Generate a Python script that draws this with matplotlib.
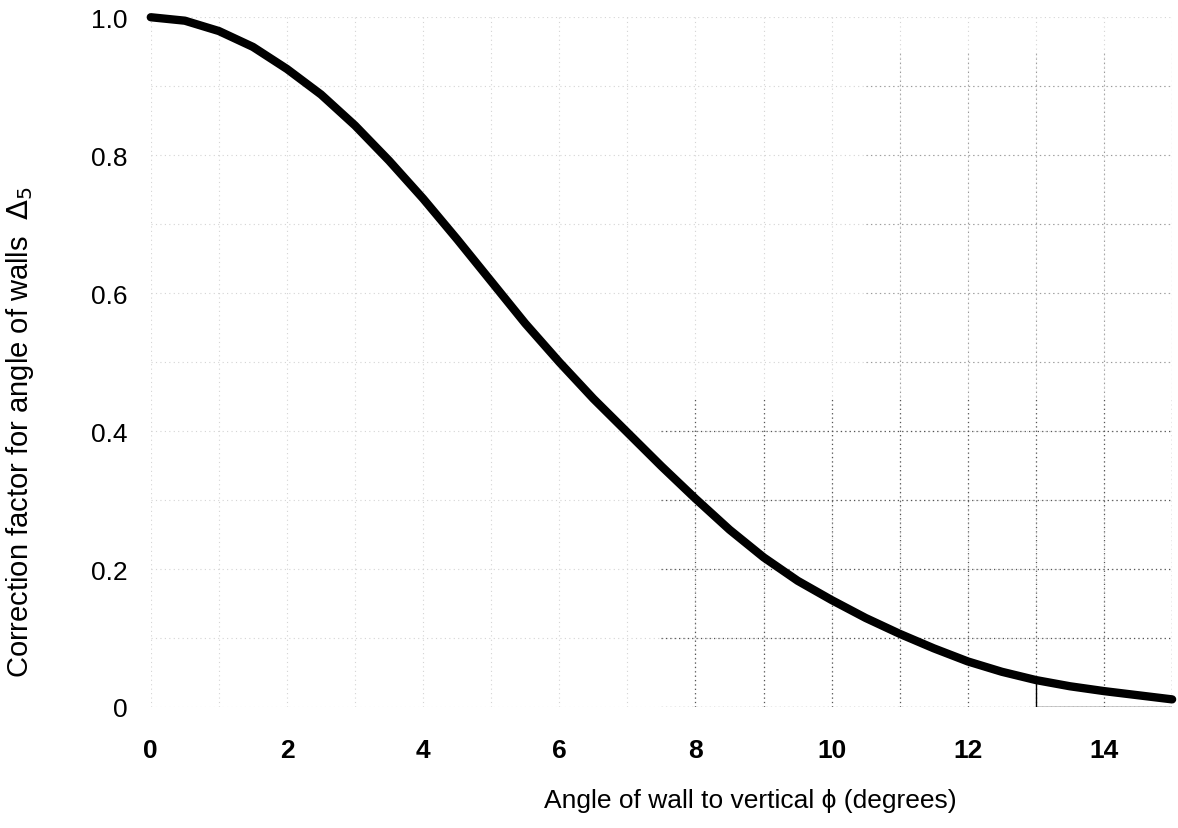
import numpy as np
import matplotlib
matplotlib.use("Agg")
import matplotlib.pyplot as plt

# values (angle in degrees -> correction factor)
angle_deg = [0, 0.5, 1, 1.5, 2, 2.5, 3, 3.5, 4, 4.5, 5, 5.5, 6, 6.5, 7, 7.5,
             8, 8.5, 9, 9.5, 10, 10.5, 11, 11.5, 12, 12.5, 13, 13.5, 14, 14.5, 15]
factor = [1.000, 0.995, 0.980, 0.957, 0.925, 0.888, 0.843, 0.792, 0.737, 0.678,
          0.617, 0.556, 0.500, 0.447, 0.398, 0.349, 0.302, 0.257, 0.217, 0.183,
          0.155, 0.129, 0.106, 0.085, 0.066, 0.051, 0.039, 0.030, 0.023, 0.017, 0.011]

x_ticks = [0, 2, 4, 6, 8, 10, 12, 14]
y_ticks = [0, 0.2, 0.4, 0.6, 0.8, 1.0]
y_tick_labels = ["0", "0.2", "0.4", "0.6", "0.8", "1.0"]
x_grid = list(range(0, 16))
y_grid = [0, 0.1, 0.2, 0.3, 0.4, 0.5, 0.6, 0.7, 0.8, 0.9, 1.0]

plt.rcParams["font.family"] = ["Liberation Sans", "DejaVu Sans"]

fig = plt.figure(figsize=(11.78, 8.29), dpi=100)
ax = fig.add_axes([0.128, 0.146, 0.867, 0.832])

# faint dotted grid over the whole field, darker in the lower right
# where the scan kept it best
ax.vlines(x_grid, 0, 1.0, colors="#d4d4d4", linestyles=(0, (1, 3)), lw=0.8)
ax.hlines(y_grid, 0, 15, colors="#d4d4d4", linestyles=(0, (1, 3)), lw=0.8)
ax.vlines([g for g in x_grid if g >= 8], 0, 0.45, colors="#555555",
          linestyles=(0, (1, 2.5)), lw=0.9)
ax.hlines([g for g in y_grid if g <= 0.4], 7.5, 15, colors="#555555",
          linestyles=(0, (1, 2.5)), lw=0.9)
ax.vlines([g for g in x_grid if g >= 11], 0.45, 0.95, colors="#999999",
          linestyles=(0, (1, 3)), lw=0.8)
ax.hlines([g for g in y_grid if 0.5 <= g <= 0.9], 10.5, 15, colors="#999999",
          linestyles=(0, (1, 3)), lw=0.8)

# construction lines left in the original drawing
ax.plot([13, 13, 15], [0.039, 0, 0], color="black", lw=1.0)

ax.plot(angle_deg, factor, color="black", lw=6, solid_capstyle="round",
        clip_on=False, zorder=3)

ax.set_xlim(0, 15)
ax.set_ylim(0, 1.0)
ax.set_xticks(x_ticks)
ax.set_yticks(y_ticks)
ax.set_yticklabels(y_tick_labels)
ax.tick_params(length=0, labelsize=19)
ax.tick_params(axis="x", pad=22)
ax.tick_params(axis="y", pad=17)
for lab in ax.get_xticklabels():
    lab.set_fontweight("bold")
for sp in ax.spines.values():
    sp.set_visible(False)

ax.set_xlabel("Angle of wall to vertical \u03d5 (degrees)", fontsize=19)
ax.xaxis.set_label_coords(0.587, -0.117)
ax.set_ylabel("Correction factor for angle of walls  $\\Delta_5$", fontsize=21)
ax.yaxis.set_label_coords(-0.112, 0.40)

fig.savefig("out.png", dpi=100)
